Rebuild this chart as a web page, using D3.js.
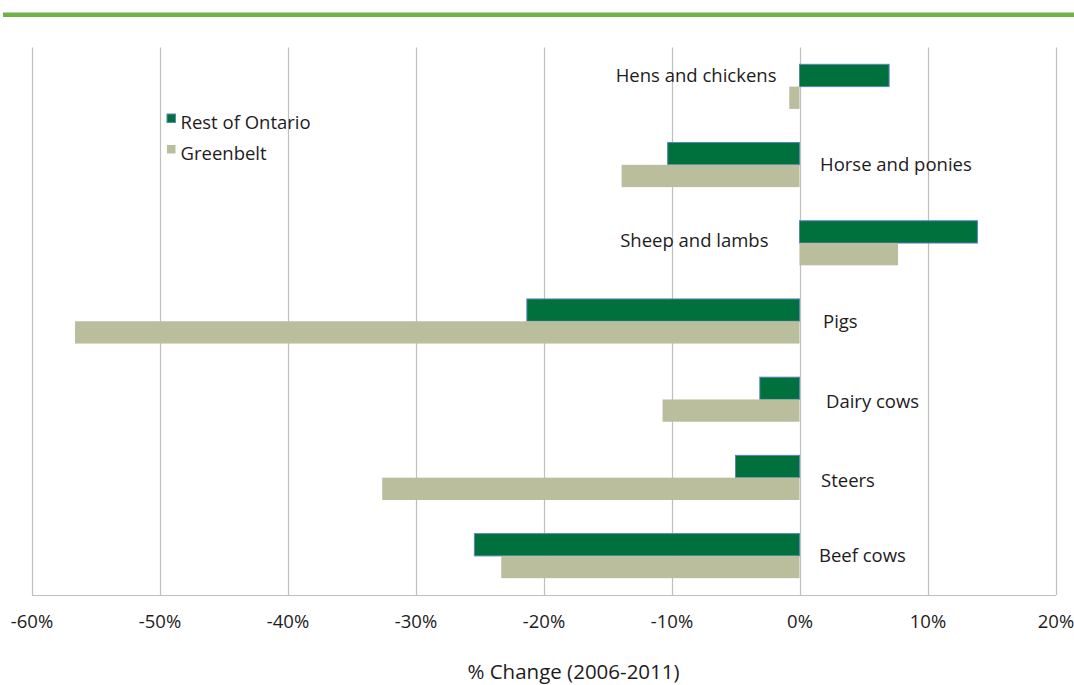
<!DOCTYPE html>
<html>
<head>
<meta charset="utf-8">
<script src="https://cdn.jsdelivr.net/npm/d3@7"></script>
<style>
  html, body { margin: 0; padding: 0; background: #fff; }
  svg { display: block; font-family: "Open Sans", "Noto Sans", sans-serif; }
</style>
</head>
<body>
<svg id="chart" width="1074" height="685"></svg>
<script>
// Livestock change by category, 2006-2011 (%)
const categories = ["Hens and chickens", "Horse and ponies", "Sheep and lambs", "Pigs", "Dairy cows", "Steers", "Beef cows"];
const seriesNames = ["Rest of Ontario", "Greenbelt"];
const restOfOntario = [7.0, -10.3, 13.9, -21.3, -3.1, -5.0, -25.4];
const greenbelt = [-0.8, -13.9, 7.7, -56.6, -10.7, -32.6, -23.3];
const tickValues = [-60, -50, -40, -30, -20, -10, 0, 10, 20];
const axisTitle = "% Change (2006-2011)";

const rows = categories.map((c, i) => ({
  category: c,
  values: [
    { series: seriesNames[0], value: restOfOntario[i] },
    { series: seriesNames[1], value: greenbelt[i] }
  ]
}));

const svg = d3.select("#chart");
const W = 1074;
const plot = { left: 31.5, right: 1055.5, top: 47.5, bottom: 595 };
const textColor = "#1e1b1c";
const gridColor = "#bfbfbf";
const fontSize = "18.5px";
const fills = { "Rest of Ontario": "#00703c", "Greenbelt": "#babe9c" };
const strokes = { "Rest of Ontario": "#5b86b8", "Greenbelt": "none" };

// Top accent rule
svg.append("rect")
  .attr("x", 3).attr("y", 12.5)
  .attr("width", W - 3).attr("height", 4.5)
  .attr("fill", "#70b244");

const x = d3.scaleLinear().domain([-60, 20]).range([plot.left, plot.right]);
const y = d3.scaleBand().domain(categories)
  .range([plot.top, plot.bottom])
  .paddingInner(0.43).paddingOuter(0.215);
const ySub = d3.scaleBand().domain(seriesNames).range([0, y.bandwidth()]);

// Vertical gridlines
svg.append("g")
  .selectAll("line")
  .data(tickValues)
  .join("line")
  .attr("x1", d => Math.round(x(d)) + 0.5)
  .attr("x2", d => Math.round(x(d)) + 0.5)
  .attr("y1", plot.top)
  .attr("y2", plot.bottom)
  .attr("stroke", gridColor)
  .attr("stroke-width", 1.2);

// Bottom axis with tick labels
const xAxis = d3.axisBottom(x)
  .tickValues(tickValues)
  .tickSize(0)
  .tickPadding(0)
  .tickFormat(d => d + "%");
const axisG = svg.append("g")
  .attr("transform", `translate(0,${plot.bottom})`)
  .call(xAxis);
axisG.select(".domain")
  .attr("stroke", gridColor)
  .attr("stroke-width", 1.2);
axisG.selectAll("text")
  .attr("y", 32.5)
  .attr("dy", 0)
  .attr("fill", textColor)
  .style("font-size", fontSize)
  .style("font-family", "'Open Sans', 'Noto Sans', sans-serif");

// Bars
const groups = svg.append("g")
  .selectAll("g")
  .data(rows)
  .join("g")
  .attr("transform", d => `translate(0,${y(d.category)})`);

groups.selectAll("rect")
  .data(d => d.values)
  .join("rect")
  .attr("x", d => x(Math.min(0, d.value)))
  .attr("y", d => ySub(d.series))
  .attr("width", d => Math.abs(x(d.value) - x(0)))
  .attr("height", ySub.bandwidth())
  .attr("fill", d => fills[d.series])
  .attr("stroke", d => strokes[d.series])
  .attr("stroke-width", 1);

// Category labels: side of the zero line and small vertical nudges
const labelLayout = {
  "Hens and chickens": { anchor: "end", dx: -23, dy: -11 },
  "Horse and ponies": { anchor: "start", dx: 20.5, dy: 0 },
  "Sheep and lambs": { anchor: "end", dx: -31, dy: -2.5 },
  "Pigs": { anchor: "start", dx: 23.5, dy: 0 },
  "Dairy cows": { anchor: "start", dx: 26.5, dy: 2.5 },
  "Steers": { anchor: "start", dx: 21.5, dy: 2.5 },
  "Beef cows": { anchor: "start", dx: 19.5, dy: 0 }
};

svg.append("g")
  .selectAll("text")
  .data(categories)
  .join("text")
  .attr("x", d => x(0) + labelLayout[d].dx)
  .attr("y", d => y(d) + y.bandwidth() / 2 + labelLayout[d].dy)
  .attr("dy", "0.35em")
  .attr("text-anchor", d => labelLayout[d].anchor)
  .attr("fill", textColor)
  .style("font-size", fontSize)
  .text(d => d);

// Legend
const legend = svg.append("g").attr("transform", "translate(167,114)");
const legendItems = legend.selectAll("g")
  .data(seriesNames)
  .join("g")
  .attr("transform", (d, i) => `translate(0,${i * 31})`);
legendItems.append("rect")
  .attr("x", 0).attr("y", 0)
  .attr("width", 8.5).attr("height", 8.5)
  .attr("fill", d => fills[d])
  .attr("stroke", d => strokes[d])
  .attr("stroke-width", 1);
legendItems.append("text")
  .attr("x", 13.5)
  .attr("y", 14.5)
  .attr("fill", textColor)
  .style("font-size", fontSize)
  .text(d => d);

// Axis title
svg.append("text")
  .attr("x", 573.5)
  .attr("y", 678.5)
  .attr("text-anchor", "middle")
  .attr("fill", textColor)
  .style("font-size", "20.5px")
  .text(axisTitle);
</script>
</body>
</html>
